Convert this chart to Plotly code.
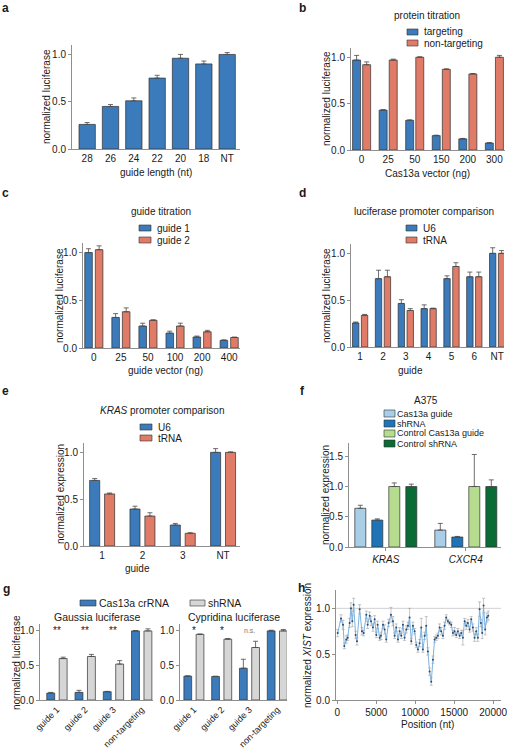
import plotly.graph_objects as go

# ---------------- data ----------------
a_cats = ["28", "26", "24", "22", "20", "18", "NT"]
a_vals = [0.26, 0.45, 0.51, 0.75, 0.96, 0.90, 1.00]
a_err = [0.02, 0.02, 0.03, 0.03, 0.04, 0.03, 0.02]

b_cats = ["0", "25", "50", "150", "200", "300"]
b_target = [0.97, 0.43, 0.32, 0.155, 0.12, 0.075]
b_target_err = [0.05, 0.005, 0.005, 0.005, 0.005, 0.005]
b_nontarget = [0.92, 0.97, 1.00, 0.87, 0.82, 1.00]
b_nontarget_err = [0.03, 0.01, 0.005, 0.005, 0.005, 0.02]

c_cats = ["0", "25", "50", "100", "200", "400"]
c_guide1 = [1.00, 0.32, 0.23, 0.156, 0.115, 0.08]
c_guide1_err = [0.04, 0.04, 0.03, 0.02, 0.01, 0.005]
c_guide2 = [1.03, 0.38, 0.29, 0.23, 0.17, 0.11]
c_guide2_err = [0.04, 0.04, 0.005, 0.03, 0.015, 0.005]

d_cats = ["1", "2", "3", "4", "5", "6", "NT"]
d_u6 = [0.257, 0.73, 0.465, 0.41, 0.73, 0.75, 1.00]
d_u6_err = [0.01, 0.09, 0.04, 0.04, 0.03, 0.05, 0.06]
d_trna = [0.338, 0.75, 0.39, 0.41, 0.86, 0.75, 1.00]
d_trna_err = [0.01, 0.07, 0.02, 0.005, 0.04, 0.05, 0.03]

e_cats = ["1", "2", "3", "NT"]
e_u6 = [0.70, 0.395, 0.224, 1.00]
e_u6_err = [0.02, 0.03, 0.017, 0.04]
e_trna = [0.556, 0.32, 0.136, 1.00]
e_trna_err = [0.01, 0.035, 0.005, 0.005]

f_cats = ["KRAS", "CXCR4"]
f_series = ["Cas13a guide", "shRNA", "Control Cas13a guide", "Control shRNA"]
f_cas13a = [0.64, 0.28]
f_cas13a_err = [0.05, 0.11]
f_shrna = [0.445, 0.165]
f_shrna_err = [0.02, 0.01]
f_ctrl_cas13a = [1.00, 1.00]
f_ctrl_cas13a_err = [0.06, 0.53]
f_ctrl_shrna = [1.00, 1.00]
f_ctrl_shrna_err = [0.04, 0.11]

g_cats = ["guide 1", "guide 2", "guide 3", "non-targeting"]
g_gau_cas = [0.10, 0.11, 0.12, 1.00]
g_gau_cas_err = [0.01, 0.03, 0.005, 0.005]
g_gau_sh = [0.60, 0.63, 0.52, 1.00]
g_gau_sh_err = [0.02, 0.03, 0.05, 0.03]
g_gau_sig = ["**", "**", "**"]
g_cyp_cas = [0.345, 0.34, 0.46, 1.00]
g_cyp_cas_err = [0.005, 0.005, 0.13, 0.01]
g_cyp_sh = [0.95, 0.88, 0.76, 1.00]
g_cyp_sh_err = [0.005, 0.01, 0.09, 0.02]
g_cyp_sig = ["*", "*", "n.s."]

h_pos = [50, 470, 730, 900, 1150, 1330, 1580, 1750, 1920, 2090,
         2350, 2520, 2860, 3160, 3380, 3720, 3890, 4150, 4320, 4570,
         4790, 5000, 5170, 5430, 5600, 5860, 6070, 6280, 6580, 6880,
         7140, 7350, 7560, 7780, 7990, 8210, 8420, 8630, 8850, 9060,
         9270, 9490, 9700, 9920, 10130, 10340, 10560, 10770, 10980, 11200,
         11410, 11620, 11840, 12050, 12270, 12480, 12690, 12910, 13120, 13330,
         13550, 13760, 13970, 14190, 14400, 14620, 14830, 15040, 15260, 15470,
         15680, 15900, 16110, 16330, 16540, 16750, 16970, 17180, 17390, 17610,
         17820, 18030, 18250, 18420, 18590, 18760, 18970, 19190, 19360]
h_vals = [0.73, 0.89, 0.82, 0.59, 0.66, 0.68, 0.84, 1.00, 0.86, 1.04,
          0.71, 0.64, 0.99, 0.75, 0.73, 0.93, 0.82, 0.92, 0.86, 0.79,
          0.88, 0.71, 0.82, 0.68, 0.70, 0.82, 0.77, 0.66, 0.84, 0.93,
          0.86, 0.70, 0.79, 0.66, 0.75, 0.70, 0.82, 0.68, 0.77, 0.81,
          0.90, 0.64, 0.81, 0.75, 0.60, 0.55, 0.62, 0.79, 0.55, 0.70,
          0.81, 0.53, 0.31, 0.20, 0.44, 0.66, 0.68, 0.70, 0.79, 0.75,
          0.70, 0.81, 0.90, 0.86, 0.84, 0.82, 0.73, 0.75, 0.71, 0.75,
          0.70, 0.73, 0.68, 0.86, 0.81, 0.84, 0.77, 0.88, 0.79, 0.68,
          0.75, 0.68, 0.99, 0.84, 0.73, 1.03, 0.77, 0.90, 0.92]
h_err = [0.04, 0.04, 0.05, 0.03, 0.04, 0.03, 0.05, 0.06, 0.06, 0.07,
         0.04, 0.04, 0.05, 0.04, 0.03, 0.04, 0.04, 0.04, 0.05, 0.04,
         0.04, 0.03, 0.04, 0.03, 0.04, 0.04, 0.05, 0.03, 0.04, 0.08,
         0.05, 0.03, 0.04, 0.03, 0.04, 0.03, 0.04, 0.03, 0.04, 0.04,
         0.10, 0.03, 0.04, 0.03, 0.03, 0.03, 0.04, 0.10, 0.03, 0.04,
         0.10, 0.04, 0.04, 0.04, 0.04, 0.03, 0.03, 0.03, 0.04, 0.04,
         0.03, 0.04, 0.03, 0.02, 0.02, 0.03, 0.03, 0.04, 0.03, 0.03,
         0.03, 0.03, 0.08, 0.03, 0.04, 0.04, 0.03, 0.03, 0.04, 0.04,
         0.04, 0.04, 0.08, 0.04, 0.06, 0.08, 0.06, 0.05, 0.05]
h_xticks = [0, 5000, 10000, 15000, 20000]

# ---------------- style ----------------
FONT = "Liberation Sans, Arial, Helvetica, sans-serif"
W, H = 508, 750
BLUE = "#3b7bbb"
SALMON = "#e07b68"
GREY = "#d6d6d6"
F_COLORS = ["#a9cfe8", "#1f74b8", "#b6dd8f", "#0b6b35"]
OUT = "#2f2f2f"
AX = "#8f8f8f"
TXT = "#1a1a1a"


def px(x):
    return x / W


def py(y):
    return 1 - y / H


fig = go.Figure()
shapes = []
annotations = []
layout_axes = {}


def sfx(n):
    return "" if n == 1 else str(n)


def add_axes(n, xdom, ydom, xr, yr, ytickvals, xkw=None):
    s = sfx(n)
    xa = dict(domain=[px(xdom[0]), px(xdom[1])], anchor="y" + s, range=xr,
              showline=True, linecolor=AX, linewidth=1, ticks="", showgrid=False,
              zeroline=False, tickfont=dict(size=10, color=TXT), automargin=False)
    if xkw:
        xa.update(xkw)
    ya = dict(domain=[py(ydom[1]), py(ydom[0])], anchor="x" + s, range=yr,
              showline=True, linecolor=AX, linewidth=1, ticks="outside", ticklen=3,
              tickcolor=AX, tickvals=ytickvals, tickformat=".1f", showgrid=False,
              zeroline=False, tickfont=dict(size=10, color=TXT), automargin=False)
    layout_axes["xaxis" + s] = xa
    layout_axes["yaxis" + s] = ya


def bars(n, cats, vals, errs, color, width, offset, name):
    s = sfx(n)
    fig.add_trace(go.Bar(
        x=cats, y=vals, name=name, xaxis="x" + s, yaxis="y" + s,
        width=width, offset=offset,
        marker=dict(color=color, line=dict(color=OUT, width=0.7)),
        error_y=dict(type="data", array=errs, arrayminus=[0] * len(errs),
                     symmetric=False, color="#4a4a4a", thickness=0.8, width=2.5),
        showlegend=False))


def text(x, y, s, size=10, anchor="center", color=TXT, angle=0, bold=False):
    if bold:
        s = "<b>" + s + "</b>"
    annotations.append(dict(xref="paper", yref="paper", x=px(x), y=py(y), text=s,
                            showarrow=False, xanchor=anchor, yanchor="middle",
                            textangle=angle, borderpad=0,
                            font=dict(size=size, color=color, family=FONT)))


def swatch(x0, y0, x1, y1, color):
    shapes.append(dict(type="rect", xref="paper", yref="paper",
                       x0=px(x0), x1=px(x1), y0=py(y1), y1=py(y0),
                       fillcolor=color, line=dict(color=OUT, width=0.6)))


def cat_axis(cats):
    return dict(type="category", categoryorder="array", categoryarray=cats)


# ---------------- panel a ----------------
add_axes(1, (72, 240), (45, 149), [-0.65, 6.55], [0, 1.1], [0, 0.5, 1.0], cat_axis(a_cats))
bars(1, a_cats, a_vals, a_err, BLUE, 0.7, -0.35, "guide length")
text(47, 97, "normalized luciferase", angle=-90)
text(156, 172, "guide length (nt)")
text(5, 8, "a", size=12, bold=True)

# ---------------- panel b ----------------
add_axes(2, (351, 505), (48, 150), [-0.4, 5.4], [0, 1.1], [0, 0.5, 1.0], cat_axis(b_cats))
bars(2, b_cats, b_target, b_target_err, BLUE, 0.3, -0.34, "targeting")
bars(2, b_cats, b_nontarget, b_nontarget_err, SALMON, 0.3, 0.04, "non-targeting")
text(326, 99, "normalized luciferase", angle=-90)
text(427, 173, "Cas13a vector (ng)")
text(302, 8, "b", size=12, bold=True)
text(427, 16, "protein titration")
swatch(407, 29, 418, 35, BLUE)
text(423, 32, "targeting", anchor="left")
swatch(407, 40, 418, 46, SALMON)
text(423, 43, "non-targeting", anchor="left")

# ---------------- panel c ----------------
add_axes(3, (83, 240), (243, 348), [-0.4, 5.4], [0, 1.1], [0, 0.5, 1.0], cat_axis(c_cats))
bars(3, c_cats, c_guide1, c_guide1_err, BLUE, 0.28, -0.335, "guide 1")
bars(3, c_cats, c_guide2, c_guide2_err, SALMON, 0.28, 0.055, "guide 2")
text(59, 296, "normalized luciferase", angle=-90)
text(165, 370, "guide vector (ng)")
text(5, 193, "c", size=12, bold=True)
text(161, 212, "guide titration")
swatch(139, 225, 151, 231, BLUE)
text(156, 228, "guide 1", anchor="left")
swatch(139, 237, 151, 243, SALMON)
text(156, 240, "guide 2", anchor="left")

# ---------------- panel d ----------------
add_axes(4, (351, 504), (244, 347), [-0.4, 6.3], [0, 1.1], [0, 0.5, 1.0], cat_axis(d_cats))
bars(4, d_cats, d_u6, d_u6_err, BLUE, 0.28, -0.335, "U6")
bars(4, d_cats, d_trna, d_trna_err, SALMON, 0.28, 0.055, "tRNA")
text(326, 296, "normalized luciferase", angle=-90)
text(410, 370, "guide")
text(302, 193, "d", size=12, bold=True)
text(424, 212, "luciferase promoter comparison")
swatch(406, 225, 417, 231, BLUE)
text(422, 228, "U6", anchor="left")
swatch(406, 237, 417, 243, SALMON)
text(422, 240, "tRNA", anchor="left")

# ---------------- panel e ----------------
add_axes(5, (84, 240), (443, 546), [-0.45, 3.42], [0, 1.1], [0, 0.5, 1.0], cat_axis(e_cats))
bars(5, e_cats, e_u6, e_u6_err, BLUE, 0.25, -0.31, "U6")
bars(5, e_cats, e_trna, e_trna_err, SALMON, 0.25, 0.06, "tRNA")
text(61, 494, "normalized expression", angle=-90)
text(137, 568, "guide")
text(5, 391, "e", size=12, bold=True)
text(162, 410, "<i>KRAS</i> promoter comparison")
swatch(140, 424, 152, 430, BLUE)
text(157, 427, "U6", anchor="left")
swatch(140, 435, 152, 441, SALMON)
text(157, 438, "tRNA", anchor="left")

# ---------------- panel f ----------------
fx = cat_axis(f_cats)
fx.update(ticks="outside", ticklen=3, tickcolor=AX, tickvals=f_cats,
          ticktext=["<i>" + c + "</i>" for c in f_cats])
add_axes(6, (349, 501), (443, 547), [-0.46, 1.44], [0, 1.72], [0, 0.5, 1.0, 1.5], fx)
f_vals = [f_cas13a, f_shrna, f_ctrl_cas13a, f_ctrl_shrna]
f_errs = [f_cas13a_err, f_shrna_err, f_ctrl_cas13a_err, f_ctrl_shrna_err]
pitch, bw = 0.2125, 0.1375
for i in range(4):
    bars(6, f_cats, f_vals[i], f_errs[i], F_COLORS[i], bw, (i - 1.5) * pitch - bw / 2, f_series[i])
text(325, 495, "normalized expression", angle=-90)
text(302, 391, "f", size=12, bold=True)
text(426, 401, "A375")
for i, yy in enumerate([413.5, 423.5, 433.5, 443.5]):
    swatch(384, yy - 3.5, 395, yy + 3.5, F_COLORS[i])
    text(396, yy, f_series[i], anchor="left", size=9)

# ---------------- panel g ----------------
gx = cat_axis(g_cats)
gx.update(tickangle=-45, tickfont=dict(size=9, color=TXT))
add_axes(7, (40, 153), (624, 700), [-0.6, 3.4], [0, 1.1], [0, 0.5, 1.0], dict(gx))
add_axes(8, (180, 287), (624, 700), [-0.5, 3.35], [0, 1.1], [0, 0.5, 1.0], dict(gx))
bars(7, g_cats, g_gau_cas, g_gau_cas_err, BLUE, 0.28, -0.36, "Cas13a crRNA")
bars(7, g_cats, g_gau_sh, g_gau_sh_err, GREY, 0.28, 0.08, "shRNA")
bars(8, g_cats, g_cyp_cas, g_cyp_cas_err, BLUE, 0.28, -0.36, "Cas13a crRNA")
bars(8, g_cats, g_cyp_sh, g_cyp_sh_err, GREY, 0.28, 0.08, "shRNA")
for i, s in enumerate(g_gau_sig):
    annotations.append(dict(xref="x7", yref="y7", x=g_cats[i], y=1.0, text=s, showarrow=False,
                            yanchor="middle", font=dict(size=10, color=TXT, family=FONT)))
for i, s in enumerate(g_cyp_sig):
    small = s == "n.s."
    annotations.append(dict(xref="x8", yref="y8", x=g_cats[i], y=1.01, text=s, showarrow=False,
                            yanchor="middle",
                            font=dict(size=7 if small else 10, color="#777777" if small else TXT,
                                      family=FONT)))
text(16, 663, "normalized luciferase", angle=-90)
text(97, 617, "Gaussia luciferase", size=10.5)
text(234, 617, "Cypridina luciferase", size=10.5)
text(6, 589, "g", size=12, bold=True)
swatch(80, 600, 96, 606, BLUE)
text(98, 603, "Cas13a crRNA", anchor="left", size=10.5)
swatch(190, 600, 205, 606, GREY)
text(207, 603, "shRNA", anchor="left", size=10.5)

# ---------------- panel h ----------------
add_axes(9, (336, 501), (590, 700), [-170, 21000], [0, 1.2], [0, 0.5, 1.0],
         dict(ticks="outside", ticklen=3, tickcolor=AX, tickvals=h_xticks, tickformat="d"))
shapes.append(dict(type="line", xref="x9 domain", yref="y9", x0=0, x1=1, y0=1.0, y1=1.0,
                   line=dict(color="#c4c4c4", width=0.8), layer="below"))
fig.add_trace(go.Scatter(
    x=h_pos, y=h_vals, xaxis="x9", yaxis="y9", mode="lines+markers",
    line=dict(color="#7fb2de", width=1),
    marker=dict(size=2, color="#2a4a70"),
    error_y=dict(type="data", array=h_err, color="#a0a0a0", thickness=0.6, width=1.5),
    showlegend=False, name="XIST"))
text(307, 646, "normalized <i>XIST</i> expression", angle=-90)
text(427, 724, "Position (nt)")
text(301, 588, "h", size=12, bold=True)

fig.update_layout(
    width=W, height=H, margin=dict(l=0, r=0, t=0, b=0),
    paper_bgcolor="white", plot_bgcolor="white",
    font=dict(family=FONT, size=10, color=TXT),
    barmode="overlay", showlegend=False,
    shapes=shapes, annotations=annotations,
    **layout_axes)

fig.write_html("out.html", config={"displayModeBar": False},
               post_script="document.body.style.margin='0';document.body.style.overflow='hidden';")
